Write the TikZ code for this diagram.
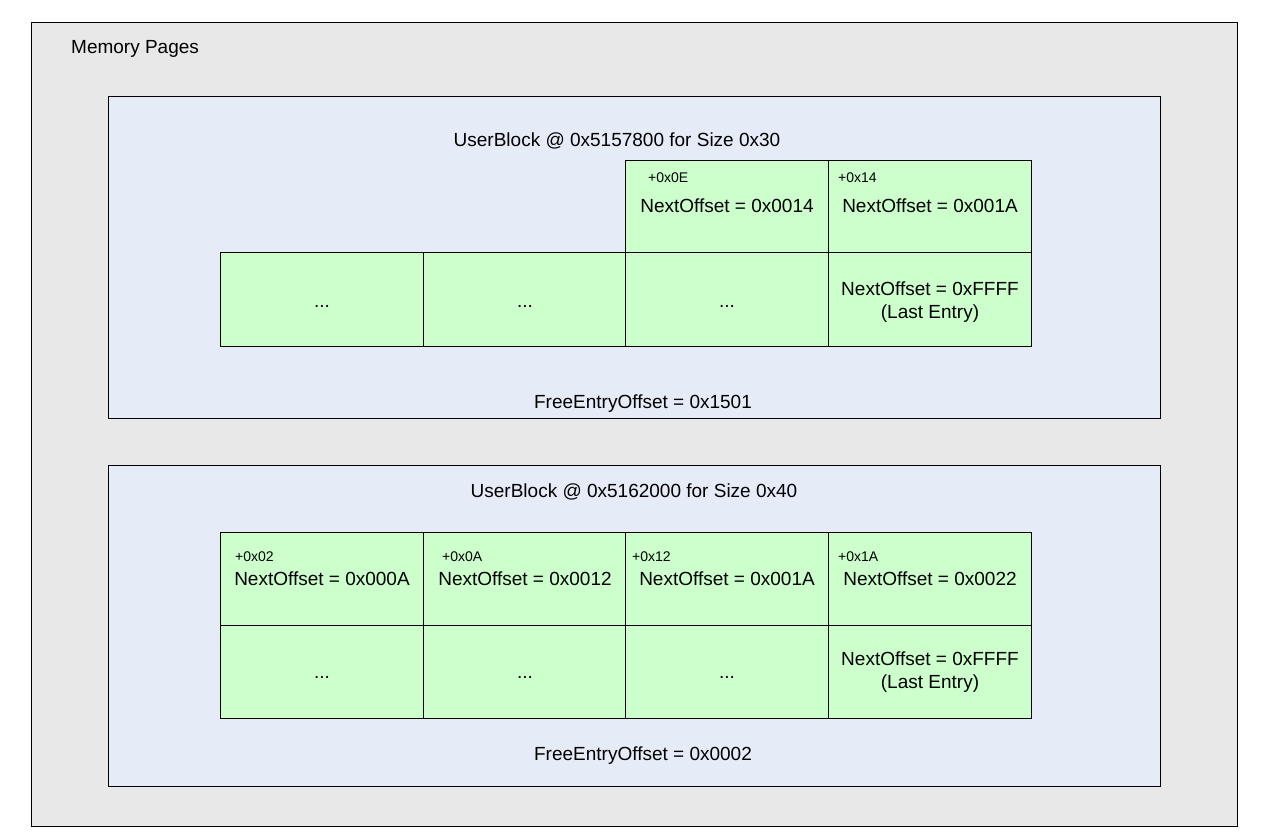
\documentclass[tikz,border=0pt]{standalone}
\usepackage{fontspec}
\setmainfont{Liberation Sans}
\definecolor{pagegray}{HTML}{E8E8E8}
\definecolor{blockblue}{HTML}{E6ECF7}
\definecolor{cellgreen}{HTML}{CCFFCC}
\tikzset{
  big/.style={font=\fontsize{19}{23}\selectfont, inner sep=0pt, anchor=base},
  small/.style={font=\fontsize{14}{17}\selectfont, inner sep=0pt, anchor=base west},
  cellbox/.style={draw=black, line width=1pt, fill=cellgreen, inner sep=0pt, outer sep=0pt, anchor=north west, minimum width=203pt, minimum height=93pt},
  blockbox/.style={draw=black, line width=1pt, fill=blockblue},
  pagebox/.style={draw=black, line width=1pt, fill=pagegray}
}
\begin{document}
\begin{tikzpicture}[x=1pt,y=-1pt]
\useasboundingbox (0,0) rectangle (1264,837);
\fill[white] (0,0) rectangle (1264,837);
% outer page
\draw[pagebox] (31,23) rectangle (1237,826);
\node[big, anchor=base west] (mp) at (71,54) {Memory Pages};
% block 1
\draw[blockbox] (108,97) rectangle (1160,418);
\node[big] (t1) at (617,147) {UserBlock @ 0x5157800 for Size 0x30};
\node[cellbox] (a3) at (625,161) {};
\node[cellbox] (a4) at (828,161) {};
\node[cellbox] (b1) at (220,253) {};
\node[cellbox] (b2) at (423,253) {};
\node[cellbox] (b3) at (625,253) {};
\node[cellbox] (b4) at (828,253) {};
\node[small] (la3) at (648,183) {+0x0E};
\node[small] (la4) at (838,183) {+0x14};
\node[big] (na3) at (727,213) {NextOffset = 0x0014};
\node[big] (na4) at (930,213) {NextOffset = 0x001A};
\node[big] (db1) at (322,307) {...};
\node[big] (db2) at (525,307) {...};
\node[big] (db3) at (727,307) {...};
\node[big] (nb4) at (930,295) {NextOffset = 0xFFFF};
\node[big] (lb4) at (930,318) {(Last Entry)};
\node[big] (f1) at (643,408) {FreeEntryOffset = 0x1501};
% block 2
\draw[blockbox] (108,465) rectangle (1160,786);
\node[big] (t2) at (634,497) {UserBlock @ 0x5162000 for Size 0x40};
\node[cellbox] (c1) at (220,532) {};
\node[cellbox] (c2) at (423,532) {};
\node[cellbox] (c3) at (625,532) {};
\node[cellbox] (c4) at (828,532) {};
\node[cellbox] (d1) at (220,625) {};
\node[cellbox] (d2) at (423,625) {};
\node[cellbox] (d3) at (625,625) {};
\node[cellbox] (d4) at (828,625) {};
\node[small] (lc1) at (235,561) {+0x02};
\node[small] (lc2) at (442,561) {+0x0A};
\node[small] (lc3) at (632,561) {+0x12};
\node[small] (lc4) at (838,561) {+0x1A};
\node[big] (nc1) at (322,585) {NextOffset = 0x000A};
\node[big] (nc2) at (525,585) {NextOffset = 0x0012};
\node[big] (nc3) at (727,585) {NextOffset = 0x001A};
\node[big] (nc4) at (930,585) {NextOffset = 0x0022};
\node[big] (dd1) at (322,678) {...};
\node[big] (dd2) at (525,678) {...};
\node[big] (dd3) at (727,678) {...};
\node[big] (nd4) at (930,665) {NextOffset = 0xFFFF};
\node[big] (ld4) at (930,688) {(Last Entry)};
\node[big] (f2) at (643,760) {FreeEntryOffset = 0x0002};
\end{tikzpicture}
\end{document}
